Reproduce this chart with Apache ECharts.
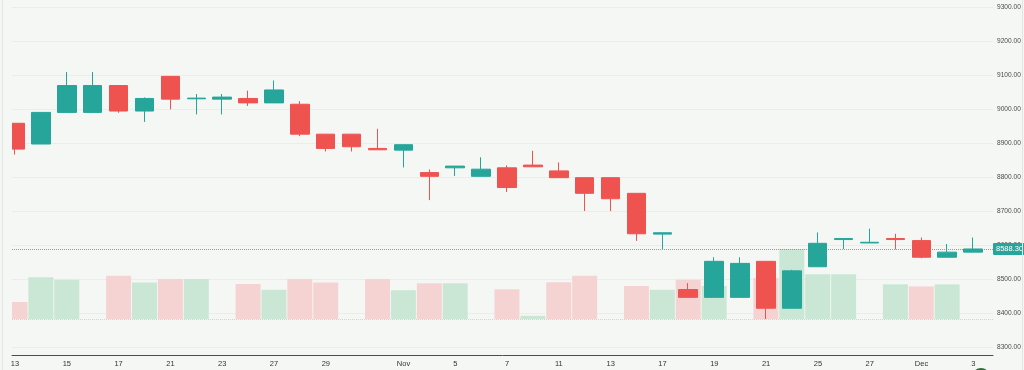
<!DOCTYPE html>
<html><head><meta charset="utf-8">
<script src="https://cdn.jsdelivr.net/npm/echarts@6/dist/echarts.min.js"></script>
<style>html,body{margin:0;padding:0;background:#f5f7f5;overflow:hidden}#c{width:1024px;height:370px}</style>
</head><body><div id="c"></div>
<script>
const categories = ['Oct 13','Oct 14','Oct 15','Oct 16','Oct 17','Oct 18','Oct 21','Oct 22','Oct 23','Oct 24','Oct 27','Oct 28','Oct 29','Oct 30','Oct 31','Nov 1','Nov 4','Nov 5','Nov 6','Nov 7','Nov 8','Nov 11','Nov 12','Nov 13','Nov 14','Nov 17','Nov 18','Nov 19','Nov 20','Nov 21','Nov 24','Nov 25','Nov 26','Nov 27','Nov 28','Dec 1','Dec 2','Dec 3'];
const tickLabels = ['13','','15','','17','','21','','23','','27','','29','','','Nov','','5','','7','','11','','13','','17','','19','','21','','25','','27','','Dec','','3'];
const openV  = [8958,8897,8990,8990,9069,8994,9096,9030,9029,9031,9018,9014,8926,8926,8884,8879,8813,8827,8802,8827,8835,8818,8798,8798,8752,8632,8469,8446,8446,8552,8414,8536,8616,8606,8619,8613,8564,8579];
const closeV = [8882,8990,9069,9069,8994,9031,9029,9032,9035,9018,9056,8926,8884,8889,8880,8895,8802,8832,8823,8769,8830,8798,8752,8736,8633,8636,8446,8552,8546,8414,8524,8605,8619,8608,8616,8564,8579,8588.3];
const lowV   = [8866,8897,8990,8990,8989,8962,8999,8984,8984,9009,9018,8920,8875,8875,8880,8828,8732,8803,8802,8756,8830,8798,8700,8700,8612,8588,8446,8446,8446,8382,8414,8536,8588,8606,8587,8561,8564,8579];
const highV  = [8958,8990,9109,9109,9069,9034,9096,9044,9044,9054,9084,9023,8926,8926,8942,8895,8822,8832,8858,8834,8877,8843,8798,8798,8752,8636,8488,8564,8564,8552,8527,8637,8620,8648,8633,8622,8603,8622];
const volume = [10,24.5,23.1,0,25.5,21.4,23.5,23.5,0,20.6,17.2,23.5,21.4,0,23.5,16.9,21,21,0,17.5,1.9,21.6,25.5,0,19.4,17.2,23.1,19.4,0,24.1,41.2,26.3,26.3,0,20.4,19.2,20.4,0];
const volUp  = [0,1,1,1,0,1,0,1,1,0,1,0,0,0,0,1,0,1,1,0,1,0,0,0,0,1,0,1,1,0,1,1,1,1,1,0,1,1];
const lastPrice = 8588.30;
const priceTicks = {min: 8300, max: 9300, interval: 100};

const UP = '#26a69a', DOWN = '#ef5350';
const VUP = '#c9e7d4', VDOWN = '#f6d3d3';
const BG = '#f5f7f5';

const candleData = categories.map((c, i) => [i, openV[i], closeV[i], lowV[i], highV[i]]);
const volData = categories.map((c, i) => volume[i] ? {value: [i, volume[i]], itemStyle: {color: volUp[i] ? VUP : VDOWN}} : {value: [i, '-']});

const xMin = -0.116, xMax = 37.77;
const chart = echarts.init(document.getElementById('c'), null, {renderer: 'canvas'});
chart.setOption({
  animation: false,
  backgroundColor: BG,
  textStyle: {fontFamily: 'Liberation Sans, Arial, sans-serif'},
  grid: [
    {left: 12, right: 31, top: 7, height: 340, outerBoundsMode: 'none', containLabel: false},
    {left: 12, right: 31, top: 149, height: 170, outerBoundsMode: 'none', containLabel: false},
    {left: -10.9, right: 24.8, top: 300, height: 55, outerBoundsMode: 'none', containLabel: false}
  ],
  xAxis: [
    {gridIndex: 0, type: 'value', min: xMin, max: xMax, offset: 8,
     axisLine: {show: true, onZero: false, lineStyle: {color: '#4b4e58', width: 1}},
     axisTick: {show: false}, axisLabel: {show: false}, splitLine: {show: false}},
    {gridIndex: 1, type: 'value', min: xMin, max: xMax, show: false, splitLine: {show: false}},
    {gridIndex: 2, type: 'value', min: -1, max: 38, interval: 1,
     axisLine: {show: false}, axisTick: {show: false}, splitLine: {show: false},
     axisLabel: {show: true, margin: 5, fontSize: 7.5, color: '#333', hideOverlap: false,
       formatter: v => (tickLabels[v] !== undefined ? tickLabels[v] : '')}}
  ],
  yAxis: [
    {gridIndex: 0, type: 'value', position: 'right', min: priceTicks.min, max: priceTicks.max, interval: priceTicks.interval,
     axisLine: {show: false}, axisTick: {show: false},
     splitLine: {show: true, lineStyle: {color: '#eaedea', width: 1}},
     axisLabel: {margin: 4, fontSize: 6.6, color: '#4a4a4a', formatter: v => v.toFixed(2)}},
    {gridIndex: 1, type: 'value', min: 0, max: 100, show: false, splitLine: {show: false}},
    {gridIndex: 2, type: 'value', show: false, splitLine: {show: false}}
  ],
  series: [
    {type: 'bar', xAxisIndex: 1, yAxisIndex: 1, barWidth: 25, data: volData,
     markLine: {silent: true, symbol: ['none', 'none'], label: {show: false},
       lineStyle: {type: 'dotted', color: 'rgba(38,166,154,0.3)', width: 1},
       data: [{yAxis: 0}]}},
    {type: 'candlestick', xAxisIndex: 0, yAxisIndex: 0, barWidth: 19,
     encode: {x: 0, y: [1, 2, 3, 4]},
     itemStyle: {color: UP, color0: DOWN, borderColor: UP, borderColor0: DOWN, borderWidth: 1},
     data: candleData,
     markLine: {silent: true, symbol: ['none', 'none'],
       lineStyle: {type: 'dotted', color: 'rgba(38,166,154,0.75)', width: 1},
       label: {show: true, position: 'end', distance: 0, formatter: lastPrice.toFixed(2),
         backgroundColor: UP, color: '#fff', fontSize: 7.5, padding: [2, 3, 2, 3], borderRadius: 1},
       data: [{yAxis: lastPrice}]}}
  ],
  graphic: [
    {type: 'rect', shape: {x: 0, y: 0, width: 12, height: 352}, style: {fill: BG}, silent: true, z: 50},
    {type: 'line', shape: {x1: 2.5, y1: 0, x2: 2.5, y2: 370}, style: {stroke: '#e2e5e2', lineWidth: 1}, silent: true, z: 51},
    {type: 'line', shape: {x1: 1022.5, y1: 0, x2: 1022.5, y2: 370}, style: {stroke: '#e2e5e2', lineWidth: 1}, silent: true, z: 51},
    {type: 'circle', shape: {cx: 981, cy: 377, r: 9}, style: {fill: '#2e6b3a'}, silent: true, z: 51}
  ]
});
</script>
</body></html>
